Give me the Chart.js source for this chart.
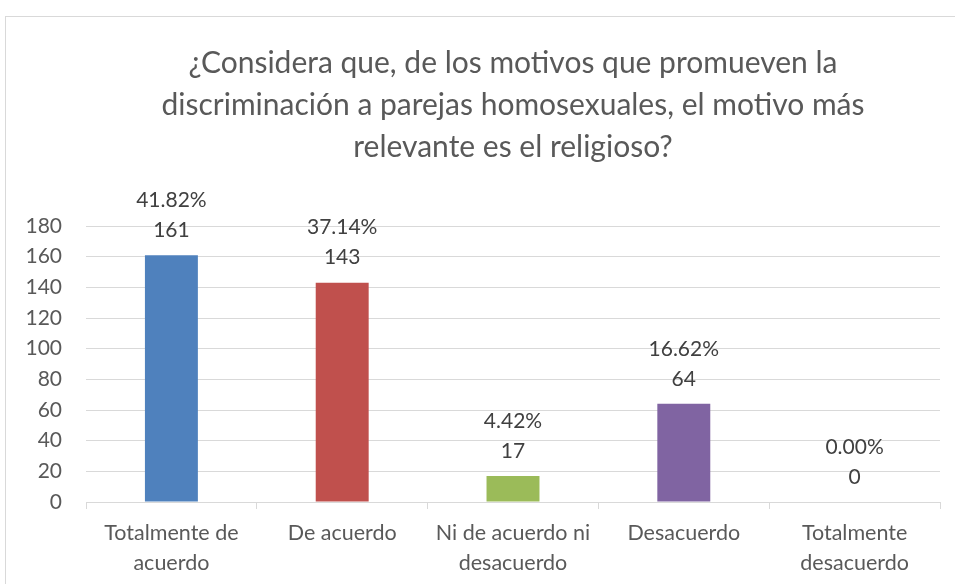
<!DOCTYPE html>
<html>
<head>
<meta charset="utf-8">
<script src="https://cdn.jsdelivr.net/npm/chart.js@4.4.1/dist/chart.umd.min.js"></script>
<style>
  html, body { margin: 0; padding: 0; background: #fff; }
  #wrap { width: 955px; height: 584px; }
</style>
</head>
<body>
<div id="wrap"><canvas id="myChart" width="955" height="584"></canvas></div>
<script>
var categories = [['Totalmente de', 'acuerdo'], ['De acuerdo'], ['Ni de acuerdo ni', 'desacuerdo'], ['Desacuerdo'], ['Totalmente', 'desacuerdo']];
var counts = [161, 143, 17, 64, 0];
var percents = ['41.82%', '37.14%', '4.42%', '16.62%', '0.00%'];
var barColors = ['#4f81bd', '#c0504d', '#9bbb59', '#8064a2', '#4bacc6'];
var titleLines = ['¿Considera que, de los motivos que promueven la', 'discriminación a parejas homosexuales, el motivo más', 'relevante es el religioso?'];

var FONT = 'Lato, "Open Sans", sans-serif';

var frameAndLabels = {
  id: 'frameAndLabels',
  beforeDraw: function(chart) {
    var c = chart.ctx;
    c.save();
    c.strokeStyle = '#d9d9d9';
    c.lineWidth = 1;
    c.strokeRect(5.5, 16.5, 1000, 1000);
    // title centered over plot area
    c.fillStyle = '#595959';
    c.font = '30px ' + FONT;
    c.textAlign = 'center';
    c.textBaseline = 'middle';
    var cx = (chart.chartArea.left + chart.chartArea.right) / 2;
    titleLines.forEach(function(t, i) {
      c.fillText(t, cx, 63 + i * 42);
    });
    c.restore();
  },
  afterDatasetsDraw: function(chart) {
    var c = chart.ctx;
    var meta = chart.getDatasetMeta(0);
    c.save();
    c.fillStyle = '#404040';
    c.font = '21px ' + FONT;
    c.textAlign = 'center';
    c.textBaseline = 'middle';
    meta.data.forEach(function(bar, i) {
      c.fillText(String(counts[i]), bar.x, bar.y - 25);
      c.fillText(percents[i], bar.x, bar.y - 55);
    });
    c.restore();
  }
};

var ctx = document.getElementById('myChart').getContext('2d');
var myChart = new Chart(ctx, {
  type: 'bar',
  data: {
    labels: categories,
    datasets: [{
      data: counts,
      backgroundColor: barColors,
      borderWidth: 0,
      barPercentage: 0.31,
      categoryPercentage: 1
    }]
  },
  options: {
    responsive: false,
    animation: false,
    layout: { padding: { top: 226, right: 15, bottom: 0, left: 0 } },
    plugins: {
      legend: { display: false },
      title: { display: false },
      tooltip: { enabled: false }
    },
    scales: {
      x: {
        afterFit: function(s) { s.height = 82; },
        grid: { drawOnChartArea: false, drawTicks: true, tickLength: 7, color: '#d9d9d9' },
        border: { display: true, color: '#d9d9d9' },
        ticks: { color: '#595959', font: { family: FONT, size: 21.5, lineHeight: 1.395 }, padding: 9, maxRotation: 0, autoSkip: false }
      },
      y: {
        min: 0,
        max: 180,
        afterFit: function(s) { s.width = 86; },
        grid: { color: '#d9d9d9', drawTicks: false },
        border: { display: false },
        ticks: { stepSize: 20, color: '#595959', font: { family: FONT, size: 21 }, padding: 24 }
      }
    }
  },
  plugins: [frameAndLabels]
});
</script>
</body>
</html>
